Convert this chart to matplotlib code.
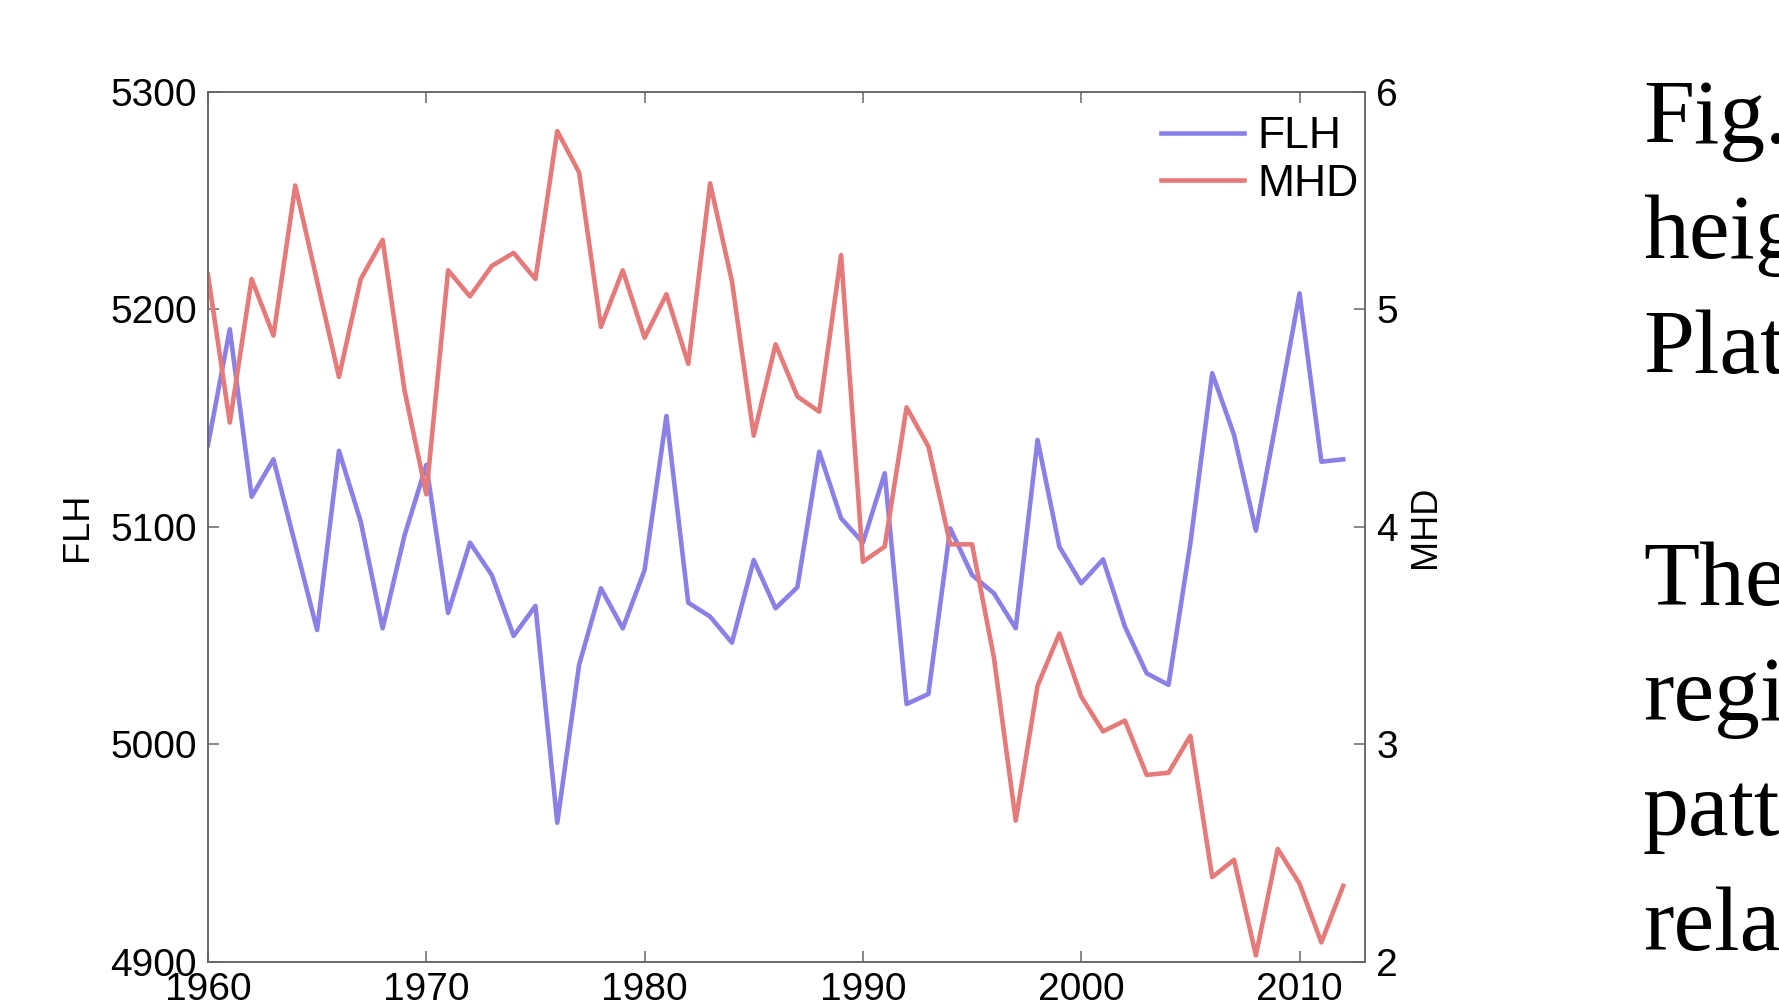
import numpy as np
import matplotlib.pyplot as plt

# ── Data ──────────────────────────────────────────────────────────────────────
years = np.arange(1960, 2013)

flh = [5137.7, 5190.9, 5113.9, 5131.1, 5091.9, 5052.6, 5135.0, 5102.4, 5053.4, 5096.0,
       5128.5, 5060.5, 5092.8, 5077.9, 5049.9, 5063.7, 4964.0, 5036.6, 5071.8, 5053.4,
       5080.2, 5151.0, 5065.2, 5058.8, 5046.8, 5084.8, 5062.6, 5072.3, 5134.6, 5104.0,
       5092.8, 5124.7, 5018.6, 5023.2, 5099.4, 5077.9, 5069.5, 5053.4, 5140.0, 5090.9,
       5074.1, 5085.1, 5054.2, 5032.7, 5027.4, 5092.5, 5170.7, 5142.3, 5098.3, 5152.4,
       5207.4, 5130.0, 5131.1]

mhd = [5.16, 4.48, 5.14, 4.88, 5.57, 5.13, 4.69, 5.14, 5.32, 4.63,
       4.15, 5.18, 5.06, 5.20, 5.26, 5.14, 5.82, 5.63, 4.92, 5.18,
       4.87, 5.07, 4.75, 5.58, 5.13, 4.42, 4.84, 4.60, 4.53, 5.25,
       3.84, 3.91, 4.55, 4.37, 3.92, 3.92, 3.40, 2.65, 3.27, 3.51,
       3.22, 3.06, 3.11, 2.86, 2.87, 3.04, 2.39, 2.47, 2.03, 2.52,
       2.36, 2.09, 2.35]

x_ticks = [1960, 1970, 1980, 1990, 2000, 2010]
flh_ticks = [4900, 5000, 5100, 5200, 5300]
mhd_ticks = [2, 3, 4, 5, 6]

side_text = ["Fig.", "heig", "Plat", "The", "regi", "patt", "rela"]

# ── Settings ──────────────────────────────────────────────────────────────────
BLUE = "#8A80E6"
RED = "#E47A7A"
SPINE = "#666666"
LW = 3.3
plt.rcParams["font.family"] = ["Liberation Sans", "DejaVu Sans"]
# ──────────────────────────────────────────────────────────────────────────────

fig = plt.figure(figsize=(17.79, 10.07), dpi=100)
ax = fig.add_axes([0.1169, 0.0447, 0.6504, 0.864])
ax2 = ax.twinx()

l1, = ax.plot(years, flh, color=BLUE, lw=LW, label="FLH")
l2, = ax2.plot(years, mhd, color=RED, lw=LW, label="MHD")

ax.set_xlim(1960, 2013)
ax.set_ylim(4900, 5300)
ax2.set_ylim(2, 6)
ax.set_xticks(x_ticks)
ax.set_yticks(flh_ticks)
ax2.set_yticks(mhd_ticks)

ax.tick_params(axis="x", direction="in", length=8, width=1.1, color=SPINE,
               labelsize=28, pad=7, top=True)
ax.tick_params(axis="y", direction="in", length=8, width=1.1, color=SPINE,
               labelsize=28, pad=8)
ax2.tick_params(axis="y", direction="in", length=8, width=1.1, color=SPINE,
                labelsize=28, pad=8)
for a in (ax, ax2):
    for s in a.spines.values():
        s.set_color(SPINE)
        s.set_linewidth(1.1)

ax.set_ylabel("FLH", fontsize=26, labelpad=11)
ax2.set_ylabel("MHD", fontsize=26, labelpad=7)

ax2.legend(handles=[l1, l2], loc="upper left", bbox_to_anchor=(0.824, 0.972),
           frameon=False, fontsize=32, handlelength=1.85, handletextpad=0.3,
           labelspacing=0.14, borderpad=0, borderaxespad=0)

# slide text on the right, cut off by the page edge
for i, t in enumerate(side_text):
    base = 143 + i * 115 if i < 3 else 605 + (i - 3) * 115
    fig.text(1643 / 1779, 1 - base / 1007, t, fontsize=66, va="baseline",
             family="Liberation Serif")

fig.savefig("out.png", dpi=100)
